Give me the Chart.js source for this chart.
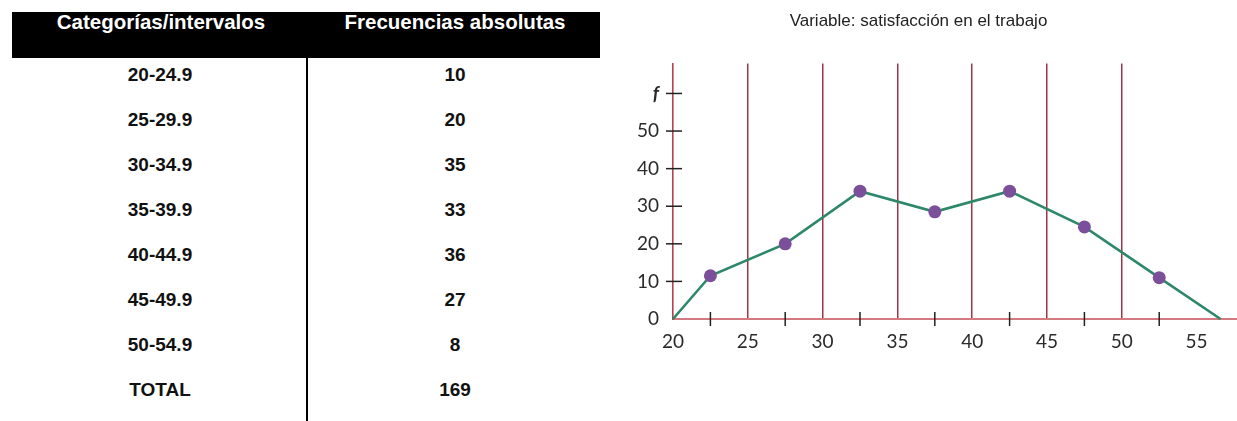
<!DOCTYPE html>
<html lang="es">
<head>
<meta charset="utf-8">
<title>Variable: satisfacción en el trabajo</title>
<script src="https://cdn.jsdelivr.net/npm/chart.js@4.4.1/dist/chart.umd.min.js"></script>
<style>
  html, body { margin: 0; padding: 0; background: #fff; }
  body { width: 1237px; height: 421px; position: relative; overflow: hidden; font-family: "Liberation Sans", Arial, sans-serif; }
  .cabecera { position: absolute; left: 12px; top: 12px; width: 588px; height: 46px; background: #000; }
  .th { position: absolute; top: 22px; color: #fff; font-weight: bold; font-size: 20.5px; line-height: 1; transform: translate(-50%, -50%); white-space: nowrap; }
  .divisor { position: absolute; left: 306px; top: 58px; width: 2px; height: 363px; background: #000; }
  .td { position: absolute; font-weight: bold; font-size: 19px; line-height: 1; color: #111; transform: translate(-50%, -50%); white-space: nowrap; }
  #grafica { position: absolute; left: 600px; top: 0; }
</style>
</head>
<body>
<div class="cabecera"></div>
<div class="th" style="left:161px">Categorías/intervalos</div>
<div class="th" style="left:455px">Frecuencias absolutas</div>
<div class="divisor"></div>
<div id="filas"></div>
<canvas id="grafica" width="637" height="421"></canvas>

<script>
// Tabla de frecuencias
const categorias = ['20-24.9', '25-29.9', '30-34.9', '35-39.9', '40-44.9', '45-49.9', '50-54.9'];
const frecuencias = [10, 20, 35, 33, 36, 27, 8];
const etiquetaTotal = 'TOTAL';
const total = 169;

// Polígono de frecuencias
const marcasClase = [20, 22.5, 27.5, 32.5, 37.5, 42.5, 47.5, 52.5, 56.6];
const valoresPoligono = [0, 11.5, 20, 34, 28.5, 34, 24.5, 11, 0];
const ticksX = [20, 25, 30, 35, 40, 45, 50, 55];
const ticksY = [0, 10, 20, 30, 40, 50, 60];
const etiquetaF = 'f';
const titulo = 'Variable: satisfacción en el trabajo';

// Construir filas de la tabla
const filas = document.getElementById('filas');
const textos = categorias.map((c, i) => [c, frecuencias[i]]).concat([[etiquetaTotal, total]]);
textos.forEach((par, i) => {
  const y = 73.5 + i * 45;
  [[160, par[0]], [455, par[1]]].forEach(([x, t]) => {
    const d = document.createElement('div');
    d.className = 'td';
    d.style.left = x + 'px';
    d.style.top = y + 'px';
    d.textContent = t;
    filas.appendChild(d);
  });
});

// Marcas cortas que cruzan los ejes
const marcasCruzadas = {
  id: 'marcasCruzadas',
  afterDatasetsDraw(chart) {
    const { ctx, scales: { x, y } } = chart;
    ctx.save();
    ctx.strokeStyle = '#222';
    ctx.lineWidth = 1.5;
    const base = y.getPixelForValue(0);
    marcasClase.slice(1, -1).forEach(v => {
      const px = x.getPixelForValue(v);
      ctx.beginPath();
      ctx.moveTo(px, base - 7);
      ctx.lineTo(px, base + 7);
      ctx.stroke();
    });
    const izq = x.getPixelForValue(20);
    ticksY.slice(1).forEach(v => {
      const py = y.getPixelForValue(v);
      ctx.beginPath();
      ctx.moveTo(izq - 7, py);
      ctx.lineTo(izq + 9, py);
      ctx.stroke();
    });
    ctx.restore();
  }
};

const fuenteEjes = { family: 'Lato, "Open Sans", sans-serif', size: 19 };

new Chart(document.getElementById('grafica').getContext('2d'), {
  type: 'line',
  data: {
    datasets: [{
      data: marcasClase.map((x, i) => ({ x: x, y: valoresPoligono[i] })),
      borderColor: '#2c8868',
      borderWidth: 2.6,
      pointBackgroundColor: '#7b4f99',
      pointBorderWidth: 0,
      pointRadius: c => (c.dataIndex === 0 || c.dataIndex === marcasClase.length - 1) ? 0 : 6.5,
      tension: 0,
      clip: false
    }]
  },
  options: {
    responsive: false,
    animation: false,
    layout: { padding: { left: 0, right: 0, top: 0, bottom: 0 } },
    plugins: {
      legend: { display: false },
      tooltip: { enabled: false },
      title: {
        display: true,
        text: titulo,
        color: '#222',
        font: { family: '"Liberation Sans", Arial, sans-serif', size: 17, weight: 'normal' },
        padding: { top: 11, bottom: 32 }
      }
    },
    scales: {
      x: {
        type: 'linear',
        min: 20,
        max: 57.7,
        afterBuildTicks: s => { s.ticks = ticksX.map(v => ({ value: v })); },
        afterFit: s => { s.height = 102; },
        border: { display: true, color: '#d27a80', width: 2 },
        grid: {
          drawTicks: false,
          lineWidth: 1.5,
          color: c => (c.tick && c.tick.value > 20 && c.tick.value < 55) ? '#9e3446' : 'rgba(0,0,0,0)'
        },
        ticks: { padding: 11, color: '#2a2a2a', font: fuenteEjes }
      },
      y: {
        min: 0,
        max: 68,
        afterBuildTicks: s => { s.ticks = ticksY.map(v => ({ value: v })); },
        afterFit: s => { s.width = 73; },
        border: { display: true, color: '#b4424f', width: 1.6 },
        grid: { drawOnChartArea: false, drawTicks: false },
        ticks: {
          padding: 14,
          color: '#2a2a2a',
          callback: v => v === 60 ? etiquetaF : v,
          font: c => (c.tick && c.tick.value === 60)
            ? { family: fuenteEjes.family, size: 19, style: 'italic', weight: 'bold' }
            : fuenteEjes
        }
      }
    }
  },
  plugins: [marcasCruzadas]
});
</script>
</body>
</html>
